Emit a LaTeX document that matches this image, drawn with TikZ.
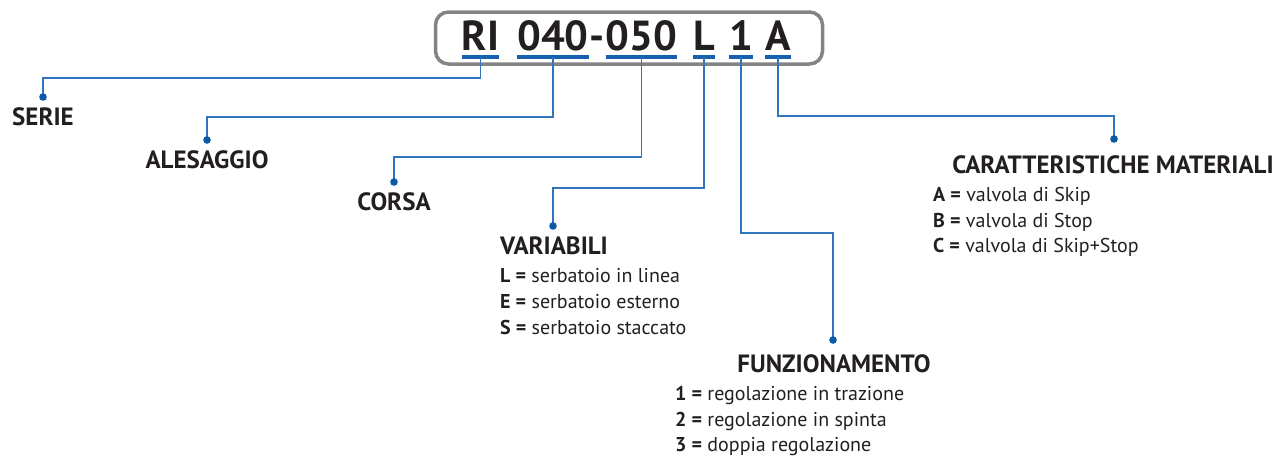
\documentclass[tikz,border=0pt]{standalone}
\usepackage{fontspec}
\setmainfont{PT Sans}
\definecolor{lineblue}{HTML}{2F74BC}
\definecolor{dotblue}{HTML}{0A5AA8}
\definecolor{ulblue}{HTML}{1660B0}
\definecolor{txt}{HTML}{231F20}
\definecolor{boxgray}{HTML}{848484}
\tikzset{
  conn/.style={draw=lineblue, line width=1.6pt},
  uline/.style={draw=ulblue, line width=3.6pt},
  dotc/.style={fill=dotblue, draw=none},
  code/.style={inner sep=0pt, anchor=base, text=txt, font=\fontsize{42}{42}\selectfont\bfseries},
  head/.style={inner sep=0pt, anchor=base, text=txt, font=\fontsize{25}{25}\selectfont\bfseries},
  item/.style={inner sep=0pt, anchor=base west, text=txt, font=\fontsize{20}{21}\selectfont},
}
\newcommand{\itm}[2]{\textbf{#1 =} #2}
\begin{document}
\begin{tikzpicture}[x=1pt,y=-1pt]
\useasboundingbox (0,0) rectangle (1282,456);
% frame
\node[draw=boxgray, line width=3.5pt, rounded corners=13pt, minimum width=387pt, minimum height=52pt, inner sep=0pt] (frame) at (629,38) {};
% code letters
\node[code] (RI) at (480.5,50) {RI};
\node[code] (c40) at (553,50) {040};
\node[code] (dash) at (597.5,50) {-};
\node[code] (c50) at (641.5,50) {050};
\node[code] (cL) at (704,50) {L};
\node[code] (c1) at (741,50) {1};
\node[code] (cA) at (778,50) {A};
% underlines
\foreach \n in {RI,c40,c50,cL,c1,cA}{
  \draw[uline] ([yshift=-7pt]\n.base west) -- ([yshift=-7pt]\n.base east);
  \coordinate (u\n) at ([yshift=-7pt]\n.base);
}
% headings
\node[head] (serie) at (43,125) {SERIE};
\node[head] (ales) at (207,168) {ALESAGGIO};
\node[head] (corsa) at (394,210) {CORSA};
\node[head] (vari) at (554,254) {VARIABILI};
\node[head] (funz) at (834,372) {FUNZIONAMENTO};
\node[head] (cara) at (1113,173) {CARATTERISTICHE MATERIALI};
% dots
\coordinate (dS) at (43,97);
\coordinate (dA) at (207,140);
\coordinate (dC) at (394,182);
\coordinate (dV) at (553,226);
\coordinate (dF) at (833,340);
\coordinate (dM) at (1114,139);
% connectors
\draw[conn] (uRI) -- (uRI |- 0,78) -| (dS);
\draw[conn] (uc40) -- (uc40 |- 0,117) -| (dA);
\draw[conn] (uc50) -- (uc50 |- 0,157) -| (dC);
\draw[conn] (ucL) -- (ucL |- 0,188) -| (dV);
\draw[conn] (uc1) -- (uc1 |- 0,233) -| (dF);
\draw[conn] (ucA) -- (ucA |- 0,116) -| (dM);
\foreach \d in {dS,dA,dC,dV,dF,dM} \fill[dotc] (\d) circle (3.8pt);
% items
\node[item] (vL) at (500,282) {\itm{L}{serbatoio in linea}};
\node[item] (vE) at (500,308) {\itm{E}{serbatoio esterno}};
\node[item] (vS) at (500,334) {\itm{S}{serbatoio staccato}};
\node[item] (f1) at (675,400) {\itm{1}{regolazione in trazione}};
\node[item] (f2) at (675,426) {\itm{2}{regolazione in spinta}};
\node[item] (f3) at (675,451) {\itm{3}{doppia regolazione}};
\node[item] (mA) at (933,201) {\itm{A}{valvola di Skip}};
\node[item] (mB) at (933,227) {\itm{B}{valvola di Stop}};
\node[item] (mC) at (933,252) {\itm{C}{valvola di Skip+Stop}};
\end{tikzpicture}
\end{document}
